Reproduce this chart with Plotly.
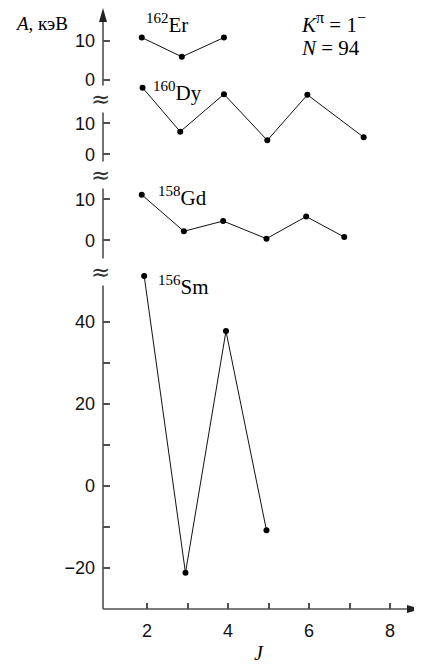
import plotly.graph_objects as go

# ---- data ----
J_er = [1.87, 2.86, 3.90]
A_er = [10.8, 5.9, 10.8]
J_dy = [1.89, 2.82, 3.90, 4.97, 5.96, 7.35]
A_dy = [21.5, 7.3, 19.4, 4.5, 19.2, 5.5]
J_gd = [1.87, 2.91, 3.88, 4.95, 5.93, 6.87]
A_gd = [11.1, 2.2, 4.7, 0.4, 5.8, 0.8]
J_sm = [1.93, 2.95, 3.95, 4.95]
A_sm = [51.3, -21.3, 37.8, -10.9]

x_ticks = [2, 3, 4, 5, 6, 7, 8]
x_ticktext = ["2", "", "4", "", "6", "", "8"]
sm_ticks = [-20, -10, 0, 10, 20, 30, 40, 50]
sm_ticktext = ["\u221220", "", "0", "", "20", "", "40", ""]
small_ticks = [0, 10]
small_ticktext = ["0", "10"]

# ---- geometry (page coordinates; the page body has an 8px margin) ----
OFF = 8
W, HT = 422 - OFF, 665 - OFF
P_LEFT, P_RIGHT, P_TOP, P_BOT = 103, 420, OFF, 609
ML = P_LEFT - OFF
MR = (W + OFF) - P_RIGHT
MT = P_TOP - OFF
MB = (HT + OFF) - P_BOT
PW = P_RIGHT - P_LEFT
PH = P_BOT - P_TOP


def py(p):
    return (P_BOT - p) / PH


def px(p):
    return (p - P_LEFT) / PW


def yrange(z0, s, ptop, pbot):
    return [(z0 - pbot) / s, (z0 - ptop) / s]


AX_COL = "#505050"
LINE_COL = "#111111"

fig = go.Figure()
series = [
    (J_sm, A_sm, "y"),
    (J_gd, A_gd, "y2"),
    (J_dy, A_dy, "y3"),
    (J_er, A_er, "y4"),
]
for xs, ys, ya in series:
    fig.add_trace(go.Scatter(
        x=xs, y=ys, xaxis="x", yaxis=ya, mode="lines+markers",
        line=dict(color=LINE_COL, width=1),
        marker=dict(color="black", size=6),
        cliponaxis=False, showlegend=False,
    ))

tickfont = dict(family="Liberation Sans, Arial, sans-serif", size=18, color="#111")
ycommon = dict(showgrid=False, zeroline=False, showline=False, ticks="inside",
               ticklen=7, tickwidth=1.5, tickcolor=AX_COL, tickfont=tickfont,
               anchor="x", fixedrange=True, ticklabelstandoff=7)

fig.update_layout(
    width=W, height=HT,
    margin=dict(l=ML, r=MR, t=MT, b=MB, pad=0),
    paper_bgcolor="white", plot_bgcolor="rgba(0,0,0,0)",
    xaxis=dict(range=[2 - (147 - P_LEFT) / 40.5, 2 + (P_RIGHT - 147) / 40.5],
               tickvals=x_ticks, ticktext=x_ticktext, ticks="inside",
               ticklen=6, tickwidth=1.5, tickcolor=AX_COL, showgrid=False,
               zeroline=False, showline=False, tickfont=tickfont,
               anchor="y", fixedrange=True, ticklabelstandoff=9),
    yaxis=dict(domain=[0, py(270)], range=yrange(485.7, 4.09, 270, 609),
               tickvals=sm_ticks, ticktext=sm_ticktext, **ycommon),
    yaxis2=dict(domain=[py(265), py(170)], range=yrange(240.3, 4.1, 170, 265),
                tickvals=small_ticks, ticktext=small_ticktext, **ycommon),
    yaxis3=dict(domain=[py(170), py(80)], range=yrange(154.3, 3.1, 80, 170),
                tickvals=small_ticks, ticktext=small_ticktext, **ycommon),
    yaxis4=dict(domain=[py(94), py(P_TOP)], range=yrange(80, 3.93, P_TOP, 94),
                tickvals=small_ticks, ticktext=small_ticktext, **ycommon),
)

# axis lines with filled arrowheads (paper coordinates)
shapes = [
    dict(type="line", xref="paper", yref="paper", x0=0, x1=0, y0=0, y1=py(18),
         line=dict(color=AX_COL, width=1.6), layer="below"),
    dict(type="line", xref="paper", yref="paper", x0=0, x1=px(408), y0=0, y1=0,
         line=dict(color=AX_COL, width=1.6), layer="below"),
    dict(type="path", xref="paper", yref="paper",
         path="M %f,%f L %f,%f L %f,%f Z" % (0, py(8), -4 / PW, py(22), 4 / PW, py(22)),
         fillcolor="#222", line=dict(width=0)),
    dict(type="path", xref="paper", yref="paper",
         path="M %f,%f L %f,%f L %f,%f Z" % (px(421), 0, px(407), 4 / PH, px(407), -4 / PH),
         fillcolor="#222", line=dict(width=0)),
]
fig.update_layout(shapes=shapes)

ann = []
# axis breaks
for pb in [99, 175, 272]:
    ann.append(dict(x=px(100), y=py(pb), xref="paper", yref="paper", text="\u2248",
                    showarrow=False, bgcolor="white", borderpad=0,
                    font=dict(family="DejaVu Sans", size=23, color="#333"),
                    xanchor="center", yanchor="middle"))

serif = "Liberation Serif, Times New Roman, serif"


def iso(mass, sym):
    return "<sup><span style='font-size:15px'>%s</span></sup>%s" % (mass, sym)


labels = [
    (iso("162", "Er"), 144, 24),
    (iso("160", "Dy"), 151, 91),
    (iso("158", "Gd"), 156, 196),
    (iso("156", "Sm"), 156, 285),
]
for t, lx, ly in labels:
    ann.append(dict(x=px(lx), y=py(ly), xref="paper", yref="paper", text=t,
                    showarrow=False, xanchor="left", yanchor="middle",
                    font=dict(family=serif, size=21, color="black")))

ann.append(dict(x=px(299), y=py(23), xref="paper", yref="paper",
                text="<i>K</i><sup><span style='font-size:16px'>\u03c0</span></sup> = 1"
                     "<sup><span style='font-size:16px'>\u2212</span></sup>",
                showarrow=False, xanchor="left", yanchor="middle",
                font=dict(family=serif, size=21, color="black")))
ann.append(dict(x=px(299), y=py(48), xref="paper", yref="paper",
                text="<i>N</i> = 94", showarrow=False,
                xanchor="left", yanchor="middle",
                font=dict(family=serif, size=21, color="black")))
ann.append(dict(x=px(13), y=py(24), xref="paper", yref="paper",
                text="<i>A</i>, кэВ", showarrow=False,
                xanchor="left", yanchor="middle",
                font=dict(family=serif, size=19, color="black")))
ann.append(dict(x=px(259), y=py(653), xref="paper", yref="paper",
                text="<i>J</i>", showarrow=False,
                xanchor="center", yanchor="middle",
                font=dict(family=serif, size=20, color="black")))

fig.update_layout(annotations=ann)
fig.write_html("out.html")
